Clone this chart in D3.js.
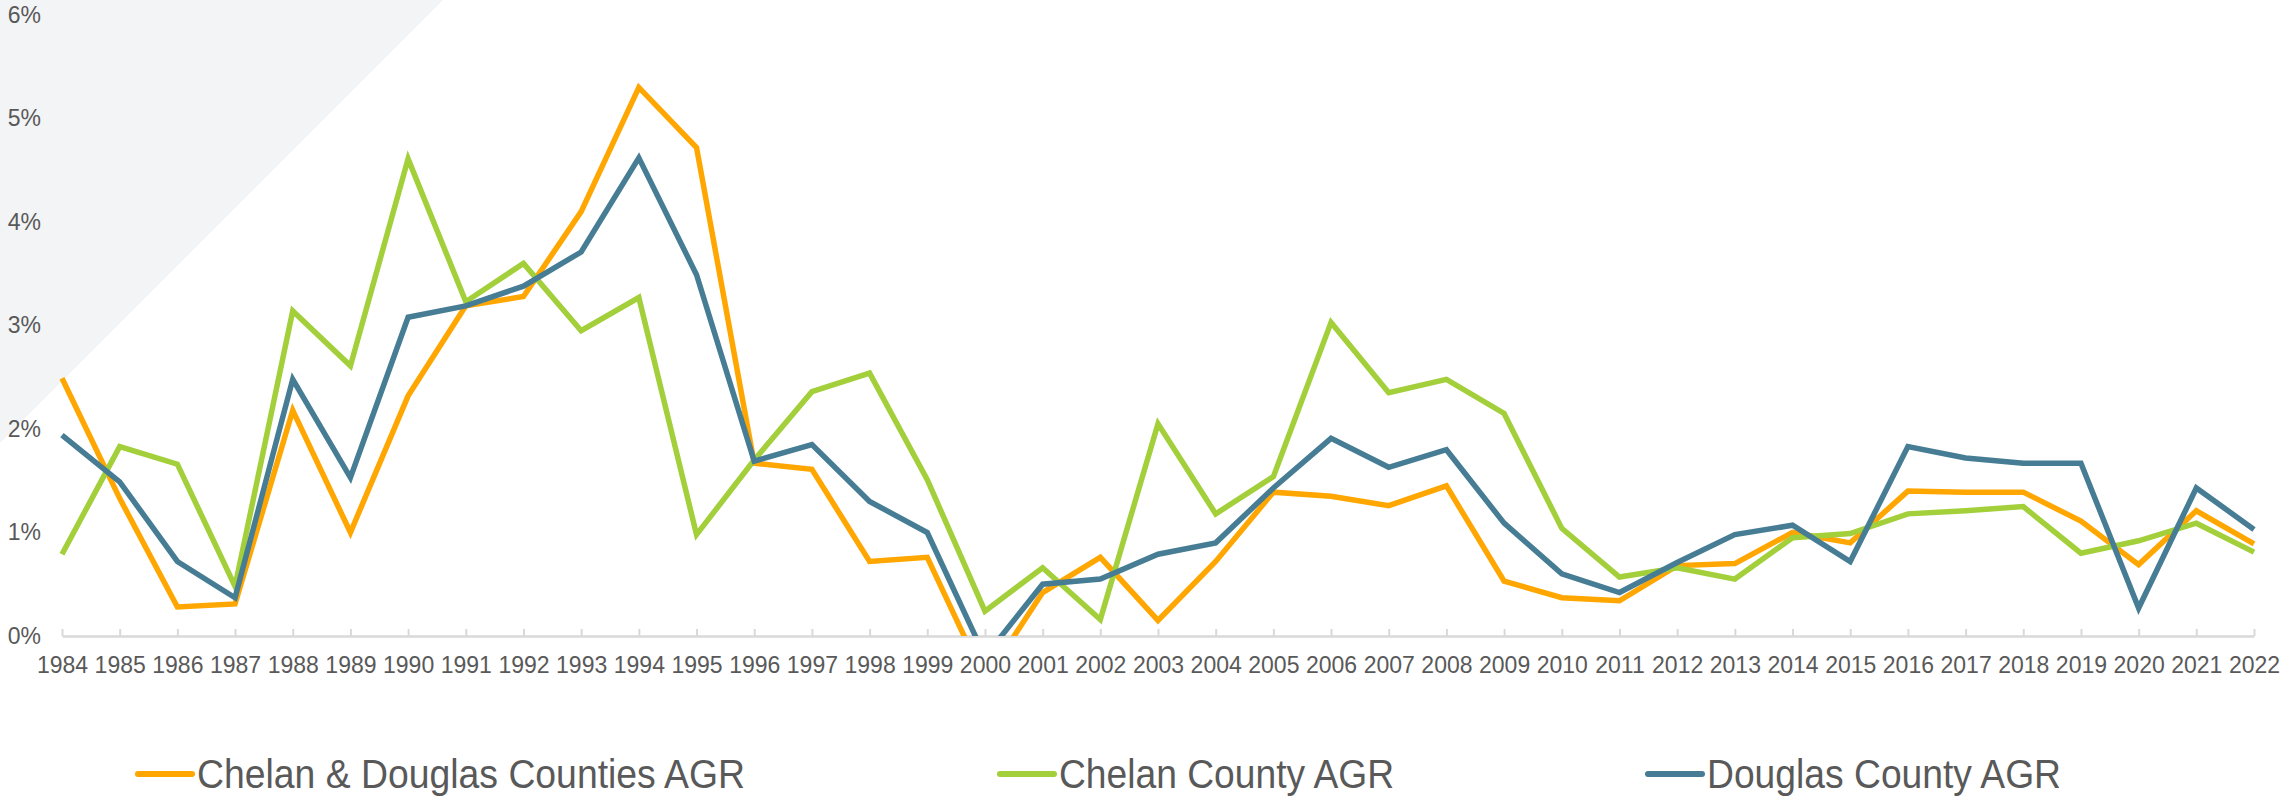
<!DOCTYPE html>
<html>
<head>
<meta charset="utf-8">
<script src="https://cdn.jsdelivr.net/npm/d3@7"></script>
<style>
  body { margin: 0; background: #fff; }
  svg { display: block; font-family: "Liberation Sans", Arial, sans-serif; }
</style>
</head>
<body>
<div class="line-chart-container"></div>
<script>
// years on the category axis
const years = d3.range(1984, 2023).map(String);

// annual growth rate, in percent
const chelanDouglas = [2.49, 1.33, 0.28, 0.31, 2.18, 1.0, 2.32, 3.19, 3.28, 4.10, 5.30, 4.72, 1.67,
   1.61, 0.72, 0.76, -0.43, 0.42, 0.76, 0.15, 0.72, 1.39, 1.35, 1.26, 1.45, 0.53,
   0.37, 0.34, 0.68, 0.70, 1.0, 0.90, 1.40, 1.39, 1.39, 1.11, 0.69, 1.21, 0.89];
const chelan = [0.79, 1.83, 1.66, 0.48, 3.14, 2.61, 4.61, 3.23, 3.60, 2.95, 3.27, 0.98, 1.70,
   2.36, 2.54, 1.51, 0.24, 0.66, 0.16, 2.05, 1.18, 1.54, 3.03, 2.35, 2.48, 2.15,
   1.04, 0.57, 0.66, 0.55, 0.95, 0.99, 1.18, 1.21, 1.25, 0.80, 0.92, 1.09, 0.81];
const douglas = [1.94, 1.49, 0.72, 0.37, 2.48, 1.53, 3.08, 3.19, 3.38, 3.71, 4.62, 3.49, 1.69,
   1.85, 1.30, 1.00, -0.20, 0.50, 0.55, 0.79, 0.90, 1.43, 1.91, 1.63, 1.80, 1.09,
   0.60, 0.42, 0.71, 0.98, 1.07, 0.72, 1.83, 1.72, 1.67, 1.67, 0.27, 1.43, 1.03];

const seriesNames = ['Chelan & Douglas Counties AGR', 'Chelan County AGR', 'Douglas County AGR'];
const seriesColors = ['#FFA600', '#A2CF3A', '#467D94'];
const yTicks = [0, 1, 2, 3, 4, 5, 6];

function build_svg(width, height) {
   return d3.select('.line-chart-container')
      .append('svg')
      .attr('width', width)
      .attr('height', height);
}

function draw_backdrop(svg) {
   // pale corner wedge behind the chart
   svg.append('path')
      .attr('d', 'M0,0 L443,0 L0,443 Z')
      .style('fill', '#F3F4F6');
}

function create_x_axis(svg, xScale, y0) {
   const xAxis = d3.axisBottom(xScale)
      .tickSizeInner(-7)
      .tickSizeOuter(0)
      .tickPadding(21);
   const g = svg.append('g')
      .attr('transform', `translate(0, ${y0})`)
      .call(xAxis);
   g.select('.domain').attr('stroke', '#D9D9D9').attr('stroke-width', 2.5);
   g.selectAll('.tick line').attr('stroke', '#D9D9D9').attr('stroke-width', 2);
   g.selectAll('text')
      .style('font-size', '23px')
      .style('fill', '#595959')
      .attr('font-family', null);
}

function create_y_axis(svg, yScale) {
   const yAxis = d3.axisLeft(yScale)
      .tickValues(yTicks)
      .tickFormat(d => d + '%')
      .tickSize(0)
      .tickPadding(0);
   const g = svg.append('g')
      .attr('transform', 'translate(41, 0)')
      .call(yAxis);
   g.select('.domain').remove();
   g.selectAll('text')
      .style('font-size', '23px')
      .style('fill', '#595959')
      .attr('font-family', null);
}

function draw_lines(svg, xScale, yScale, table) {
   svg.append('clipPath')
      .attr('id', 'plot-clip')
      .append('rect')
      .attr('x', 0)
      .attr('y', 0)
      .attr('width', 2285)
      .attr('height', yScale(0));

   const line = d3.line()
      .x((d, i) => xScale(years[i]))
      .y(d => yScale(d));

   svg.append('g')
      .attr('clip-path', 'url(#plot-clip)')
      .selectAll('.series')
      .data(table)
      .enter()
      .append('path')
      .attr('class', 'series')
      .attr('d', d => line(d.values))
      .style('fill', 'none')
      .style('stroke', d => d.color)
      .style('stroke-width', 5.5)
      .style('stroke-linejoin', 'miter');
}

function draw_legend(svg, table) {
   const lineX = [138, 1000, 1648];
   const textLen = [548, 335, 354];
   const item = svg.selectAll('.legend-item')
      .data(table)
      .enter()
      .append('g')
      .attr('class', 'legend-item')
      .attr('transform', (d, i) => `translate(${lineX[i]}, 774)`);

   item.append('line')
      .attr('x1', 0)
      .attr('x2', 54)
      .style('stroke', d => d.color)
      .style('stroke-width', 6)
      .style('stroke-linecap', 'round');

   item.append('text')
      .attr('x', 59)
      .attr('y', 14)
      .attr('textLength', (d, i) => textLen[i])
      .attr('lengthAdjust', 'spacingAndGlyphs')
      .style('font-size', '40px')
      .style('fill', '#595959')
      .text(d => d.name);
}

function build_chart() {
   const width = 2285;
   const height = 799;

   const table = [chelanDouglas, chelan, douglas].map((values, i) => ({
      name: seriesNames[i], color: seriesColors[i], values: values
   }));

   const xScale = d3.scalePoint().domain(years).range([62, 2254]);
   const yScale = d3.scaleLinear().domain([0, 6]).range([636, 15]);

   const svg = build_svg(width, height);
   draw_backdrop(svg);
   create_x_axis(svg, xScale, yScale(0));
   create_y_axis(svg, yScale);
   draw_lines(svg, xScale, yScale, table);
   draw_legend(svg, table);
}

build_chart();
</script>
</body>
</html>
